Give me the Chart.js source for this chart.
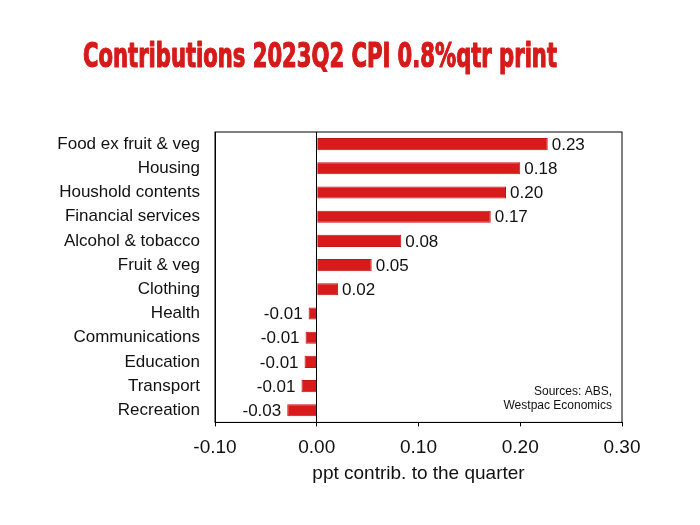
<!DOCTYPE html>
<html lang="en">
<head>
    <meta charset="UTF-8">
    <title>Contributions 2023Q2 CPI</title>
    <script src="https://cdn.jsdelivr.net/npm/chart.js"></script>
    <style>
        body { margin: 0; background: #fff; }
        #wrap { width: 700px; height: 525px; }
    </style>
</head>
<body>
    <div id="wrap"><canvas id="cpiChart" width="700" height="525"></canvas></div>
    <script>
        // data
        const categories = ['Food ex fruit & veg', 'Housing', 'Houshold contents', 'Financial services',
            'Alcohol & tobacco', 'Fruit & veg', 'Clothing', 'Health', 'Communications',
            'Education', 'Transport', 'Recreation'];
        const contributions = [0.227, 0.200, 0.186, 0.171, 0.083, 0.054, 0.021, -0.008, -0.011, -0.012, -0.015, -0.029];
        // the printed labels on the original (not always the bar length)
        const printedLabels = ['0.23', '0.18', '0.20', '0.17', '0.08', '0.05', '0.02', '-0.01', '-0.01', '-0.01', '-0.01', '-0.03'];
        const xMin = -0.1, xMax = 0.3, xStep = 0.1;
        const chartTitle = 'Contributions 2023Q2 CPI 0.8%qtr print';
        const sourceLines = ['Sources: ABS,', 'Westpac Economics'];

        const baseFont = 'Arial, "Liberation Sans", sans-serif';

        // heavy condensed title (no narrow font installed, so squeeze a bold one)
        const bigTitle = {
            id: 'bigTitle',
            afterDraw(chart) {
                const ctx = chart.ctx;
                ctx.save();
                ctx.font = 'bold 33px "DejaVu Sans Condensed", "DejaVu Sans", sans-serif';
                ctx.fillStyle = '#d61a1a';
                ctx.strokeStyle = '#d61a1a';
                ctx.lineWidth = 1.2;
                ctx.lineJoin = 'round';
                ctx.textAlign = 'center';
                ctx.textBaseline = 'alphabetic';
                const w = ctx.measureText(chartTitle).width;
                const squeeze = 474 / w;
                ctx.translate(320, 67);
                ctx.scale(squeeze, 1);
                ctx.fillText(chartTitle, 0, 0);
                ctx.strokeText(chartTitle, 0, 0);
                ctx.restore();
            }
        };

        // value labels next to each bar
        const barLabels = {
            id: 'barLabels',
            afterDatasetsDraw(chart) {
                const ctx = chart.ctx;
                const meta = chart.getDatasetMeta(0);
                ctx.save();
                ctx.font = '17px ' + baseFont;
                ctx.fillStyle = '#111';
                ctx.textBaseline = 'middle';
                meta.data.forEach((bar, i) => {
                    if (contributions[i] >= 0) {
                        ctx.textAlign = 'left';
                        ctx.fillText(printedLabels[i], bar.x + 4, bar.y + 1);
                    } else {
                        ctx.textAlign = 'right';
                        ctx.fillText(printedLabels[i], bar.x - 6, bar.y + 1);
                    }
                });
                ctx.restore();
            }
        };

        // box round the plot + source note
        const frame = {
            id: 'frame',
            afterDraw(chart) {
                const {ctx, chartArea: a} = chart;
                ctx.save();
                ctx.strokeStyle = '#000';
                ctx.lineWidth = 1;
                ctx.strokeRect(a.left, a.top, a.right - a.left, a.bottom - a.top);
                ctx.font = '12px ' + baseFont;
                ctx.fillStyle = '#111';
                ctx.textAlign = 'right';
                ctx.textBaseline = 'middle';
                ctx.fillText(sourceLines[0], a.right - 10, a.bottom - 31);
                ctx.fillText(sourceLines[1], a.right - 10, a.bottom - 17);
                ctx.restore();
            }
        };

        const ctx = document.getElementById('cpiChart').getContext('2d');
        new Chart(ctx, {
            type: 'bar',
            data: {
                labels: categories,
                datasets: [{
                    data: contributions,
                    backgroundColor: '#d81a1a',
                    borderColor: '#c41515',
                    borderWidth: 1,
                    barPercentage: 0.5,
                    categoryPercentage: 1.0
                }]
            },
            options: {
                indexAxis: 'y',
                responsive: false,
                animation: false,
                layout: { padding: { left: 18, right: 78, top: 132, bottom: 40 } },
                plugins: {
                    legend: { display: false },
                    tooltip: { enabled: false },
                    title: { display: false }
                },
                scales: {
                    x: {
                        min: xMin,
                        max: xMax,
                        ticks: {
                            stepSize: xStep,
                            color: '#111',
                            font: { family: baseFont, size: 19 },
                            padding: 10,
                            maxRotation: 0,
                            callback: v => v.toFixed(2)
                        },
                        grid: {
                            color: c => (c.tick && Math.abs(c.tick.value) < 1e-9) ? '#000' : 'rgba(0,0,0,0)',
                            tickColor: '#000',
                            tickLength: 4
                        },
                        border: { display: true, color: '#000' },
                        title: {
                            display: true,
                            text: 'ppt contrib. to the quarter',
                            color: '#111',
                            font: { family: baseFont, size: 19 },
                            padding: { top: -7, bottom: 0 }
                        }
                    },
                    y: {
                        ticks: {
                            color: '#111',
                            font: { family: baseFont, size: 17 },
                            padding: 15,
                            autoSkip: false
                        },
                        grid: { display: false, tickLength: 0 },
                        border: { display: true, color: '#000' },
                        afterFit(scale) { scale.width = 197; }
                    }
                }
            },
            plugins: [barLabels, frame, bigTitle]
        });
    </script>
</body>
</html>
